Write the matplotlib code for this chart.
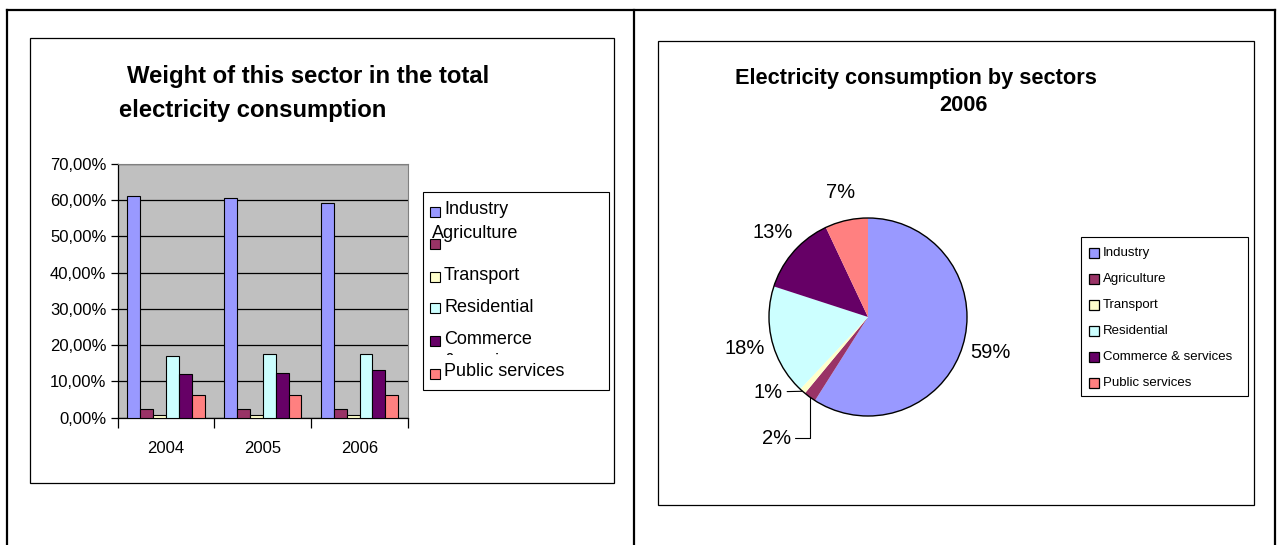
import matplotlib
matplotlib.use('Agg')
import matplotlib.pyplot as plt
import numpy as np
from matplotlib.patches import Rectangle, Circle
from matplotlib.transforms import Bbox, TransformedBbox

plt.rcParams['font.family'] = ['Liberation Sans', 'DejaVu Sans']

# Données
years = ['2004', '2005', '2006']
sectors = ['Industry', 'Agriculture', 'Transport', 'Residential',
           'Commerce & services', 'Public services']
colors = ['#9999FF', '#993366', '#FFFFCC', '#CCFFFF', '#660066', '#FF8080']

# Part de chaque secteur dans la consommation totale (%)
industry = [61.2, 60.5, 59.3]
agriculture = [2.3, 2.3, 2.3]
transport = [0.6, 0.6, 0.6]
residential = [17.0, 17.5, 17.5]
commerce = [12.0, 12.4, 13.1]
public = [6.2, 6.2, 6.2]

# Répartition 2006 (camembert)
pie_2006 = [59, 2, 1, 18, 13, 7]

W, H = 1278, 545
fig = plt.figure(figsize=(W / 100, H / 100), dpi=100)

# Calque de fond en pixels (cadres, titres, légendes)
bg = fig.add_axes([0, 0, 1, 1])
bg.set_xlim(0, W)
bg.set_ylim(H, 0)
bg.axis('off')

# Cadre du tableau
bg.plot([7, 1275], [10, 10], color='black', lw=1.6, solid_capstyle='projecting')
for xv in [7, 634, 1275]:
    bg.plot([xv, xv], [10, H + 5], color='black', lw=1.6)

# Cadres des graphiques
bg.add_patch(Rectangle((29.5, 37.5), 584, 445, fill=False, ec='black', lw=0.9))
bg.add_patch(Rectangle((658, 41), 596, 463.5, fill=False, ec='black', lw=0.9))

# Titres
bg.text(127, 83, 'Weight of this sector in the total', fontsize=17.2,
        fontweight='bold', ha='left', va='baseline')
bg.text(119, 117, 'electricity consumption', fontsize=17.2,
        fontweight='bold', ha='left', va='baseline')
bg.text(916, 84, 'Electricity consumption by sectors', fontsize=15.7,
        fontweight='bold', ha='center', va='baseline')
bg.text(963, 111, '2006', fontsize=15.7, fontweight='bold', ha='center',
        va='baseline')

# ---- Histogramme ----
ax = fig.add_axes([117.5 / W, 1 - 417.5 / H, (408 - 117.5) / W, (417.5 - 164) / H])
x = np.arange(len(years))
series = [industry, agriculture, transport, residential, commerce, public]
n = len(series)
bw = 0.8 / n
for i, vals in enumerate(series):
    ax.bar(x - 0.4 + bw * (i + 0.5), vals, bw, color=colors[i],
           edgecolor='black', lw=0.8, label=sectors[i], zorder=3)
ax.set_facecolor('#C0C0C0')
ax.set_xlim(-0.5, 2.5)
ax.set_ylim(0, 70)
yt = np.arange(0, 71, 10)
ax.set_yticks(yt)
ax.set_yticklabels([f'{v:.2f}%'.replace('.', ',') for v in yt], fontsize=12)
ax.yaxis.grid(True, color='black', lw=0.9, zorder=1)
ax.set_xticks([-0.5, 0.5, 1.5, 2.5])
ax.set_xticklabels([])
ax.set_xticks(x, minor=True)
ax.set_xticklabels(years, minor=True, fontsize=12)
ax.tick_params(axis='x', which='major', length=7, width=0.9)
ax.tick_params(axis='x', which='minor', length=0, pad=17)
ax.tick_params(axis='y', length=5, width=0.9, pad=3)
ax.spines['top'].set_color('#808080')
ax.spines['right'].set_color('#808080')
ax.spines['left'].set_linewidth(0.9)
ax.spines['bottom'].set_linewidth(0.9)

# Légende de l'histogramme (reproduite telle quelle, avec le texte coupé)
bg.add_patch(Rectangle((423, 191.5), 186, 198, fill=False, ec='black', lw=0.8))
mark_y = [212, 244, 277, 308, 341, 374]
text_y = [209, 233, 275, 307, 340, 371]
text_x = [444, 432, 444, 444, 444, 444]
short = ['Industry', 'Agriculture', 'Transport', 'Residential', 'Commerce',
         'Public services']
for i in range(n):
    bg.add_patch(Rectangle((430, mark_y[i] - 5), 10, 10, fc=colors[i],
                           ec='black', lw=0.8, zorder=2))
    bg.text(text_x[i], text_y[i], short[i], fontsize=13, ha='left',
            va='center', zorder=3)
# deuxième ligne "& services" masquée par la ligne suivante
t = bg.text(444, 361, '& services', fontsize=13, ha='left', va='center')
t.set_clip_on(True)
t.set_clip_path(None)
t.set_clip_box(TransformedBbox(Bbox([[440, 349], [600, 355]]), bg.transData))

# ---- Camembert ----
cx, cy, r = 868, 317, 99
pax = fig.add_axes([(cx - 200) / W, (H - cy - 200) / H, 400 / W, 400 / H])
wedges, _ = pax.pie(pie_2006, colors=colors, startangle=90, counterclock=False,
                    radius=r / 100, wedgeprops=dict(lw=0))
pax.add_patch(Circle((0, 0), r / 100, fill=False, ec='black', lw=1))
pax.set_xlim(-2, 2)
pax.set_ylim(-2, 2)
for w, v in zip(wedges, pie_2006):
    ang = np.deg2rad((w.theta1 + w.theta2) / 2)
    ex, ey = r / 100 * np.cos(ang), r / 100 * np.sin(ang)
    if v >= 5:
        pax.text(1.29 * ex, 1.29 * ey, f'{v}%', fontsize=14.5, ha='center',
                 va='center')
    elif v == 1:
        pax.annotate(f'{v}%', xy=(ex, ey), xytext=(-0.85, -0.75), fontsize=14.5,
                     ha='right', va='center',
                     arrowprops=dict(arrowstyle='-', lw=0.8, shrinkA=1, shrinkB=0))
    else:
        pax.annotate(f'{v}%', xy=(ex, ey), xytext=(-0.77, -1.21), fontsize=14.5,
                     ha='right', va='center',
                     arrowprops=dict(arrowstyle='-', lw=0.8, shrinkA=1, shrinkB=0,
                                     connectionstyle='angle,angleA=0,angleB=90,rad=0'))

# Légende du camembert
bg.add_patch(Rectangle((1080.5, 237), 167, 159, fill=False, ec='black', lw=0.8))
for i in range(n):
    yy = 253 + 26 * i
    bg.add_patch(Rectangle((1089, yy - 5), 10, 10, fc=colors[i], ec='black',
                           lw=0.9))
    bg.text(1103, yy, sectors[i], fontsize=9.5, ha='left', va='center')

fig.savefig('out.png', dpi=100)
